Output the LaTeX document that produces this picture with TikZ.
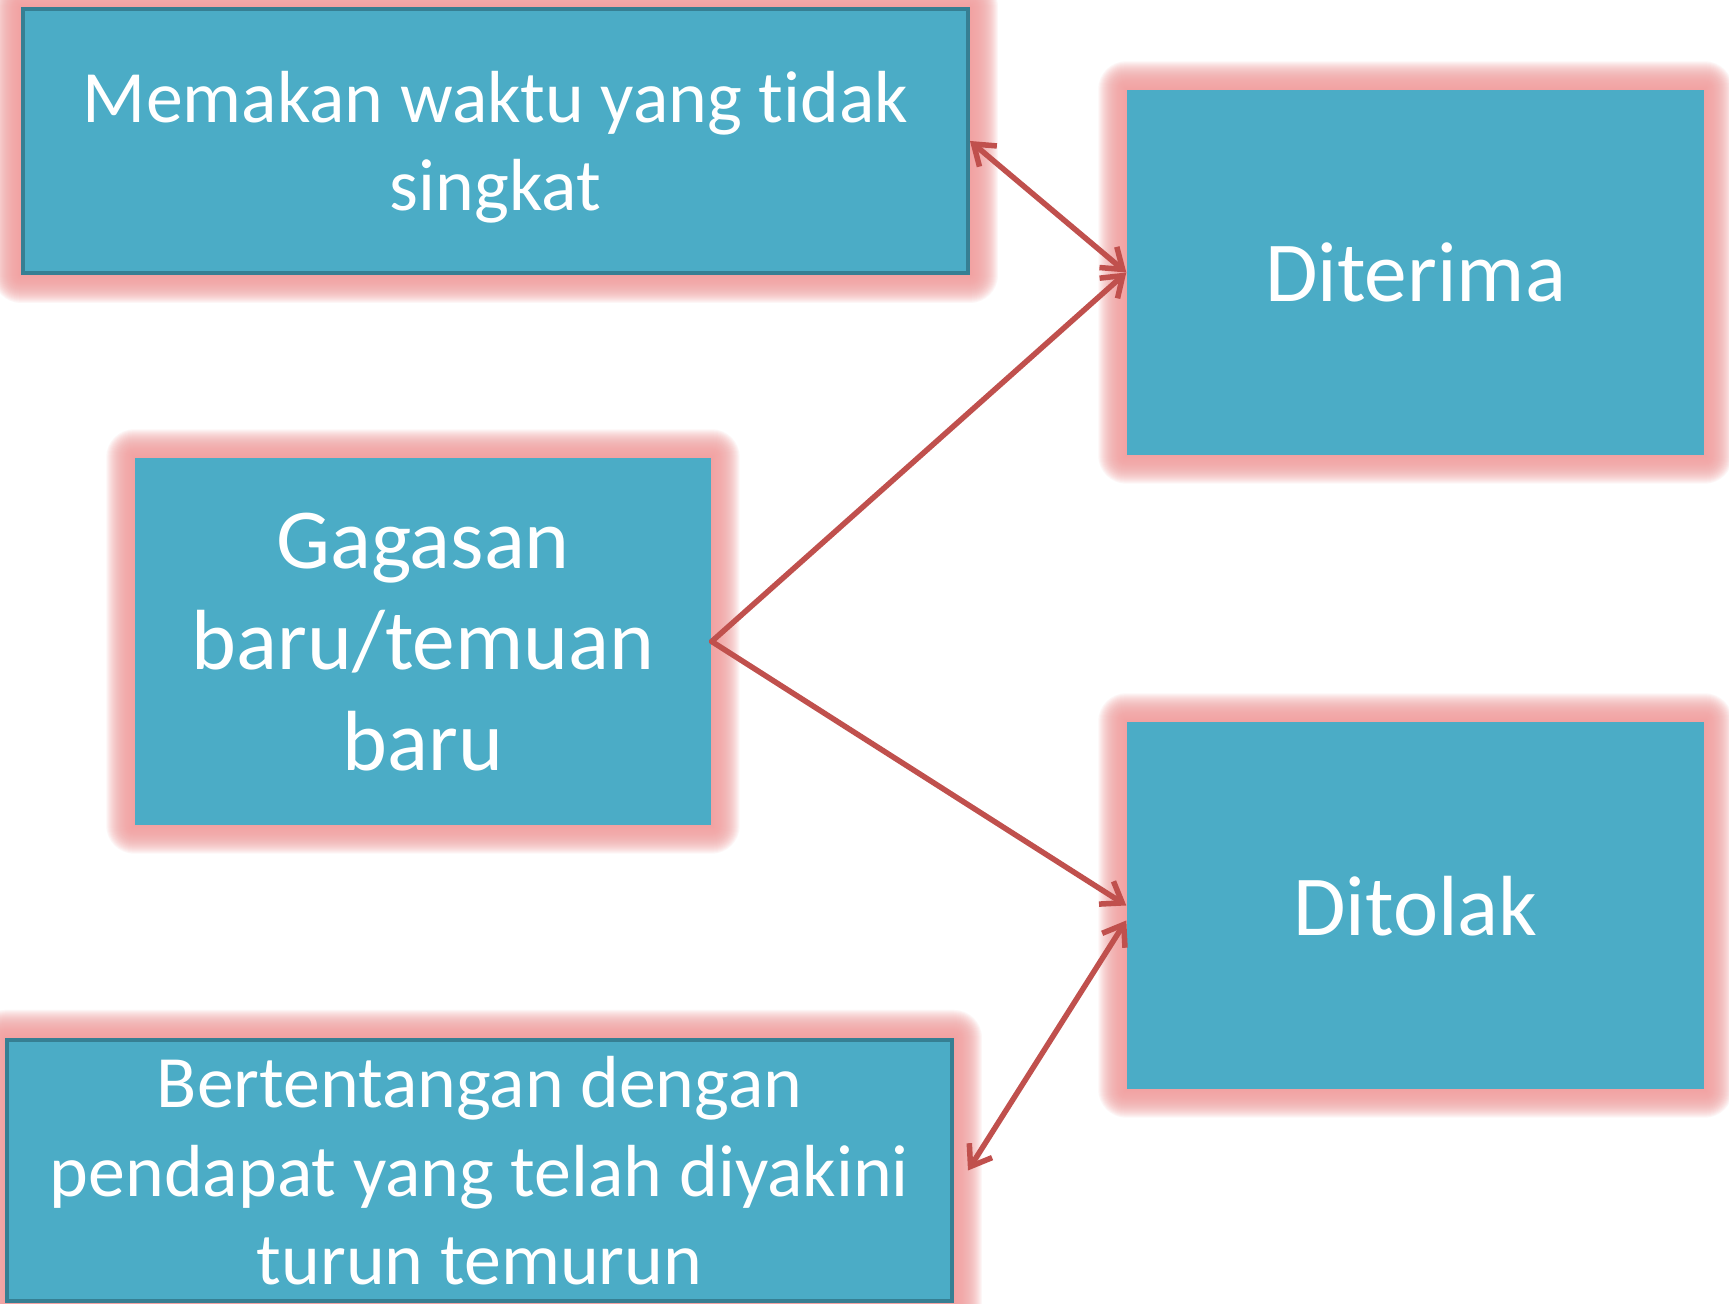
\documentclass[tikz,border=0pt]{standalone}
\usepackage{fontspec}
\setmainfont{Carlito}[Ligatures=NoCommon]
\usepackage{xcolor}
\usepackage{tikz}
\usetikzlibrary{shapes, arrows.meta, positioning, calc, backgrounds}

\definecolor{boxblue}{HTML}{4BACC6}
\definecolor{boxedge}{HTML}{367F93}
\definecolor{glowpink}{HTML}{F2A0A0}
\definecolor{arrowred}{HTML}{C0504D}

\begin{document}
\begin{tikzpicture}[x=0.1mm, y=0.1mm,
  box/.style={fill=boxblue, text=white, inner sep=0pt, align=center, text depth=0pt},
  edged/.style={draw=boxedge, line width=0.4mm},
  smalltext/.style={font=\fontsize{21pt}{25.2pt}\selectfont},
  bigtext/.style={font=\fontsize{24.3pt}{28.7pt}\selectfont},
  link/.style={arrowred, line width=0.55mm, line cap=round, >={Straight Barb[length=1.9mm, width=2.7mm]}}]
\useasboundingbox (0,0) rectangle (1729,1304);

% Boxes
\node[box, edged, smalltext, minimum width=94.5mm, minimum height=26.4mm] (memakan) at (495.5,1163) {Memakan waktu yang tidak\\singkat};
\node[box, bigtext, minimum width=57.7mm, minimum height=36.5mm] (diterima) at (1415.5,1031.5) {Diterima};
\node[box, bigtext, minimum width=57.6mm, minimum height=36.7mm] (gagasan) at (423,662.5) {Gagasan\\baru/temuan\\baru};
\node[box, bigtext, minimum width=57.7mm, minimum height=36.7mm] (ditolak) at (1415.5,398.5) {Ditolak};
\node[box, edged, smalltext, minimum width=94.5mm, minimum height=26.1mm] (bertentangan) at (479.5,133.5) {Bertentangan dengan\\pendapat yang telah diyakini\\turun temurun};

% Canvas and glow behind the boxes
\begin{pgfonlayer}{background}
\fill[white] (0,0) rectangle (1729,1304);
\foreach \n in {memakan, diterima, gagasan, ditolak, bertentangan}
  \foreach \g in {1,...,28}
    \fill[glowpink, opacity=0.085, rounded corners=\g*0.1mm] ([shift={(-\g,-\g)}]\n.south west) rectangle ([shift={(\g,\g)}]\n.north east);
\end{pgfonlayer}

% Arrows
\draw[link, ->] (gagasan.east) -- (diterima.west);
\draw[link, ->] (gagasan.east) -- (ditolak.west);
\draw[link, <->] (diterima.west) -- (memakan.east);
\draw[link, <->] ([yshift=-1.5mm]ditolak.west) -- ([xshift=1.4mm]bertentangan.east);
\end{tikzpicture}
\end{document}
